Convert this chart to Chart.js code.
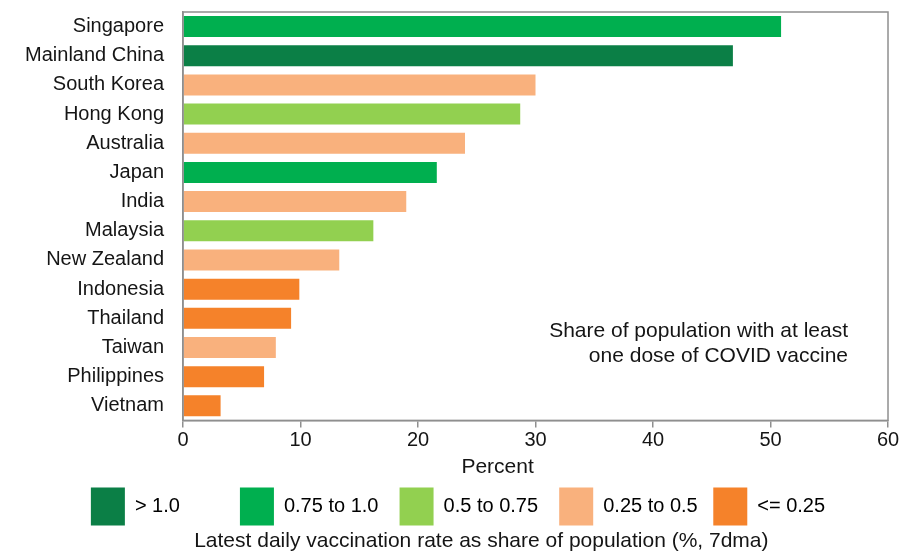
<!DOCTYPE html>
<html>
<head>
<meta charset="utf-8">
<script src="https://cdn.jsdelivr.net/npm/chart.js@4"></script>
<style>
  html, body { margin: 0; padding: 0; background: #fff; }
  #wrap { width: 904px; height: 553px; }
</style>
</head>
<body>
<div id="wrap"><canvas id="chart" width="904" height="553"></canvas></div>
<script>
// ----------------------
// Data
// ----------------------
const countries = [
  "Singapore", "Mainland China", "South Korea", "Hong Kong", "Australia",
  "Japan", "India", "Malaysia", "New Zealand", "Indonesia",
  "Thailand", "Taiwan", "Philippines", "Vietnam"
];
// share of population with at least one dose (%)
const shareOneDose = [50.9, 46.8, 30.0, 28.7, 24.0, 21.6, 19.0, 16.2, 13.3, 9.9, 9.2, 7.9, 6.9, 3.2];
// index into rateGroups for each country
const rateGroupIndex = [1, 0, 3, 2, 3, 1, 3, 2, 3, 4, 4, 3, 4, 4];

const rateGroups = ["> 1.0", "0.75 to 1.0", "0.5 to 0.75", "0.25 to 0.5", "<= 0.25"];
const rateColors = ["#0b7f46", "#00af4f", "#92d050", "#f9b17d", "#f5822a"];

const xTicks = [0, 10, 20, 30, 40, 50, 60];

const FONT = "'Liberation Sans', Arial, sans-serif";
const TEXT = "#151515";
const AXIS = "#8f8f8f";

// trailing spaces keep the legend columns at the spacing of the original
const legendPad = [9, 2, 2, 1, 0];

// ----------------------
// Small plugins: frame + note
// ----------------------
const framePlugin = {
  id: "frame",
  afterDatasetsDraw(chart) {
    const { ctx, chartArea: a } = chart;
    ctx.save();
    ctx.strokeStyle = AXIS;
    ctx.lineWidth = 1.5;
    ctx.strokeRect(a.left, a.top, a.right - a.left, a.bottom - a.top);
    ctx.restore();
  }
};

const notePlugin = {
  id: "note",
  afterDraw(chart) {
    const { ctx, chartArea: a } = chart;
    ctx.save();
    ctx.font = "21px " + FONT;
    ctx.fillStyle = TEXT;
    ctx.textAlign = "right";
    ctx.textBaseline = "middle";
    ctx.fillText("Share of population with at least", a.right - 40, a.top + 319);
    ctx.fillText("one dose of COVID vaccine", a.right - 40, a.top + 344);
    ctx.restore();
  }
};

// ----------------------
// Chart
// ----------------------
const ctx = document.getElementById("chart").getContext("2d");
new Chart(ctx, {
  type: "bar",
  data: {
    labels: countries,
    datasets: [{
      data: shareOneDose,
      backgroundColor: rateGroupIndex.map(i => rateColors[i]),
      borderWidth: 0,
      barPercentage: 0.72,
      categoryPercentage: 1
    }]
  },
  options: {
    indexAxis: "y",
    responsive: false,
    animation: false,
    layout: { padding: { left: 12, right: 0, top: 12, bottom: 5 } },
    scales: {
      x: {
        min: 0,
        max: 60,
        afterBuildTicks: s => { s.ticks = xTicks.map(v => ({ value: v })); },
        afterFit: s => { s.height = 57; },
        grid: { drawOnChartArea: false, drawTicks: true, tickLength: 7, color: AXIS, lineWidth: 1.5 },
        border: { color: AXIS, width: 1.5 },
        ticks: { color: TEXT, font: { family: FONT, size: 20 }, padding: 1, maxRotation: 0 },
        title: {
          display: true,
          text: "Percent" + " ".repeat(13),
          color: TEXT,
          font: { family: FONT, size: 21, lineHeight: 1 },
          padding: { top: 0, bottom: 0 }
        }
      },
      y: {
        afterFit: s => { s.width = 171; },
        grid: { display: false, drawTicks: true, tickLength: 19 },
        border: { color: AXIS, width: 1.5 },
        ticks: { color: TEXT, font: { family: FONT, size: 20 }, padding: 0, autoSkip: false }
      },
      // empty strip on the right so the plot ends where the original does
      yRight: {
        type: "category",
        position: "right",
        afterFit: s => { s.width = 16; },
        grid: { display: false, drawTicks: false },
        border: { display: false },
        ticks: { display: false }
      }
    },
    plugins: {
      tooltip: { enabled: false },
      legend: {
        position: "bottom",
        onClick: null,
        labels: {
          boxWidth: 34,
          boxHeight: 38,
          padding: 10,
          color: TEXT,
          font: { family: FONT, size: 20 },
          generateLabels: () => rateGroups.map((g, i) => ({
            text: g + " ".repeat(legendPad[i]),
            fillStyle: rateColors[i],
            strokeStyle: rateColors[i],
            lineWidth: 0,
            hidden: false,
            index: i
          }))
        }
      },
      title: {
        display: true,
        position: "bottom",
        text: " ".repeat(8) + "Latest daily vaccination rate as share of population (%, 7dma)",
        color: TEXT,
        font: { family: FONT, size: 21, weight: "normal", lineHeight: 0.6 },
        padding: { top: 0, bottom: 0 }
      }
    }
  },
  plugins: [framePlugin, notePlugin]
});
</script>
</body>
</html>
